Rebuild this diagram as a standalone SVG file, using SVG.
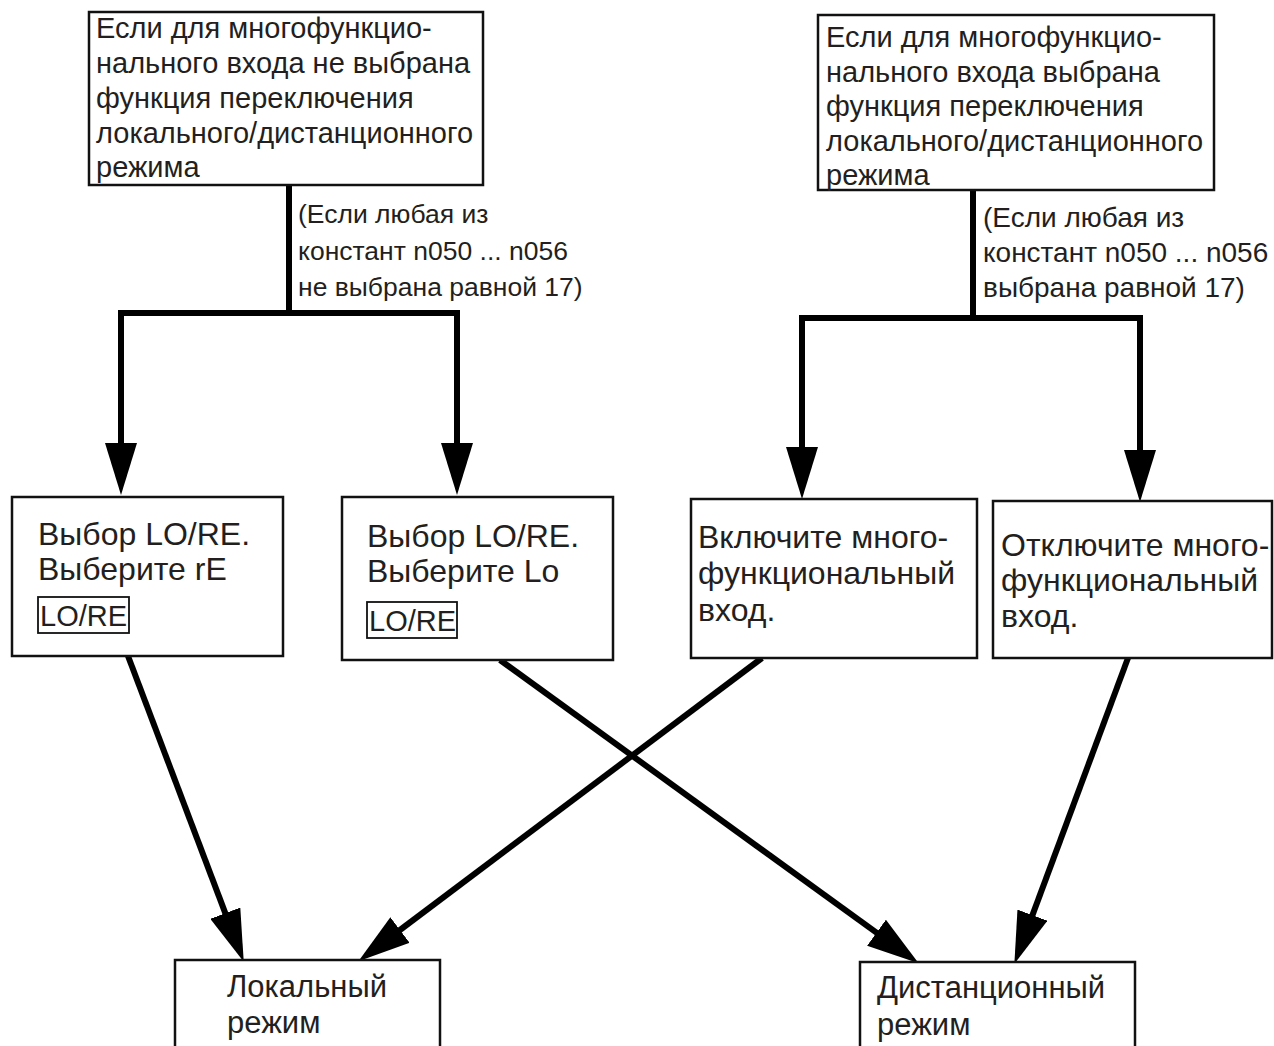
<svg xmlns="http://www.w3.org/2000/svg" width="1274" height="1046" viewBox="0 0 1274 1046">
<style>
text{font-family:"Liberation Sans",Arial,sans-serif;fill:#231f20}
.t{font-size:29px}
.m{font-size:32px}
.n{font-size:31px}
.b{font-size:29px}
.l{font-size:26.5px}
.r{font-size:28px}
.box{fill:#fff;stroke:#111;stroke-width:2.5}
.small{fill:none;stroke:#111;stroke-width:1.8}
.c{fill:none;stroke:#000;stroke-width:6;stroke-linejoin:miter;stroke-linecap:butt}
</style>
<defs>
<marker id="ah" markerUnits="userSpaceOnUse" markerWidth="52" markerHeight="32" refX="20" refY="16" orient="auto" viewBox="0 0 52 32">
<path d="M0,0 L52,16 L0,32 Z" fill="#000"/>
</marker>
</defs>
<g id="connectors">
<path class="c" d="M289,185 V313"/>
<path class="c" d="M121,463 V313 H457 V463" marker-end="url(#ah)"/>
<path class="c" d="M121,313 V463" marker-end="url(#ah)"/>
<path class="c" d="M973,190 V318"/>
<path class="c" d="M802,467 V318 H1140 V470" marker-end="url(#ah)"/>
<path class="c" d="M802,318 V467" marker-end="url(#ah)"/>
<line class="c" x1="128" y1="656" x2="232.4" y2="931.9" marker-end="url(#ah)"/>
<line class="c" x1="762" y1="658" x2="384" y2="942" marker-end="url(#ah)"/>
<line class="c" x1="500" y1="660" x2="892.7" y2="944.4" marker-end="url(#ah)"/>
<line class="c" x1="1128" y1="658" x2="1025.5" y2="933.9" marker-end="url(#ah)"/>
</g>
<g id="label-left">
<text class="l" x="298" y="223">(Если любая из</text>
<text class="l" x="298" y="260">констант n050 ... n056</text>
<text class="l" x="298" y="296">не выбрана равной 17)</text>
</g>
<g id="label-right">
<text class="r" x="983" y="227">(Если любая из</text>
<text class="r" x="983" y="262">констант n050 ... n056</text>
<text class="r" x="983" y="297">выбрана равной 17)</text>
</g>
<g id="top-left">
<rect class="box" x="89" y="12" width="394" height="173"/>
<text class="t" x="96" y="38">Если для многофункцио-</text>
<text class="t" x="96" y="73">нального входа не выбрана</text>
<text class="t" x="96" y="108">функция переключения</text>
<text class="t" x="96" y="143">локального/дистанционного</text>
<text class="t" x="96" y="177">режима</text>
</g>
<g id="top-right">
<rect class="box" x="818" y="15" width="396" height="175"/>
<text class="t" x="826" y="47">Если для многофункцио-</text>
<text class="t" x="826" y="82">нального входа выбрана</text>
<text class="t" x="826" y="116">функция переключения</text>
<text class="t" x="826" y="151">локального/дистанционного</text>
<text class="t" x="826" y="185">режима</text>
</g>
<g id="box-re">
<rect class="box" x="12" y="497" width="271" height="159"/>
<text class="m" x="38" y="545">Выбор LO/RE.</text>
<text class="m" x="38" y="580">Выберите rE</text>
<rect class="small" x="38" y="597" width="91" height="36"/>
<text class="b" x="40" y="626">LO/RE</text>
</g>
<g id="box-lo">
<rect class="box" x="342" y="497" width="271" height="163"/>
<text class="m" x="367" y="547">Выбор LO/RE.</text>
<text class="m" x="367" y="582">Выберите Lo</text>
<rect class="small" x="367" y="602" width="90" height="36"/>
<text class="b" x="369" y="631">LO/RE</text>
</g>
<g id="box-on">
<rect class="box" x="691" y="499" width="286" height="159"/>
<text class="m" x="698" y="548">Включите много-</text>
<text class="m" x="698" y="584">функциональный</text>
<text class="m" x="698" y="621">вход.</text>
</g>
<g id="box-off">
<rect class="box" x="993" y="501" width="279" height="157"/>
<text class="m" x="1001" y="556">Отключите много-</text>
<text class="m" x="1001" y="591">функциональный</text>
<text class="m" x="1001" y="627">вход.</text>
</g>
<g id="box-local">
<rect class="box" x="175" y="960" width="265" height="120"/>
<text class="n" x="227" y="997">Локальный</text>
<text class="n" x="227" y="1033">режим</text>
</g>
<g id="box-remote">
<rect class="box" x="860" y="962" width="275" height="120"/>
<text class="n" x="877" y="998">Дистанционный</text>
<text class="n" x="877" y="1035">режим</text>
</g>
</svg>
